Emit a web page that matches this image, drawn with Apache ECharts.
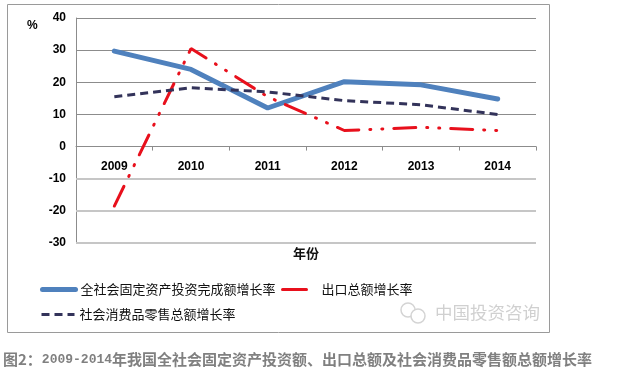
<!DOCTYPE html>
<html>
<head>
<meta charset="utf-8">
<style>
  html, body { margin: 0; padding: 0; background: #fff; }
  #main { width: 643px; height: 375px; }
</style>
<script src="https://cdn.jsdelivr.net/npm/echarts@6/dist/echarts.min.js"></script>
</head>
<body>
<div id="main"></div>
<script>
const years = ['2009', '2010', '2011', '2012', '2013', '2014'];
const investment = [29.7, 24, 12, 20.2, 19.2, 14.8];
const exports_ = [-18.5, 30.5, 15.5, 5, 6, 5];
const retail = [15.5, 18.3, 17, 14.3, 13, 10];
const lowerGrid = [-10, -20, -30];

const nameInvestment = '全社会固定资产投资完成额增长率';
const nameExports = '出口总额增长率';
const nameRetail = '社会消费品零售总额增长率';

const cjk = '"Noto Sans CJK SC", sans-serif';
const latin = '"Liberation Sans", "Noto Sans CJK SC", sans-serif';

const myChart = echarts.init(document.getElementById('main'));

// one legend per entry, they sit at their own spots in the picture
function legendAt(name, left, top, width, lineStyle) {
  return {
    data: [name],
    left: left,
    top: top,
    itemWidth: width,
    itemHeight: 14,
    padding: 0,
    // keeps the line sample, hides the round symbol on it
    itemStyle: { opacity: 0 },
    lineStyle: lineStyle,
    textStyle: { fontFamily: cjk, fontSize: 13, color: '#111' },
  };
}

const captionStyle = { fontFamily: cjk, fontSize: 15, fontWeight: 'bold', color: '#808080' };

const option = {
  animation: false,
  backgroundColor: '#fff',
  grid: { left: 76, right: 107, top: 18, bottom: 132 },
  title: [
    { text: '%', left: 27, top: 20, padding: 0, textStyle: { fontFamily: latin, fontSize: 12, fontWeight: 'bold', color: '#000' } },
    { text: '年份', left: 293, top: 247, padding: 0, textStyle: { fontFamily: cjk, fontSize: 13, fontWeight: 'bold', color: '#111' } },
    { text: '中国投资咨询', left: 435, top: 304, padding: 0, textStyle: { fontFamily: cjk, fontSize: 17.5, fontWeight: 'normal', color: '#d0d0d0' } },
    {
      text: '{a|图2：}{b|2009-2014}{a|年我国全社会固定资产投资额、出口总额及社会消费品零售额总额增长率}',
      left: 3,
      top: 352,
      padding: 0,
      textStyle: {
        rich: {
          a: captionStyle,
          b: { fontFamily: '"Liberation Mono", monospace', fontSize: 13, fontWeight: 'bold', color: '#808080' },
        },
      },
    },
  ],
  legend: [
    legendAt(nameInvestment, 40, 283, 33, { width: 5, cap: 'round' }),
    legendAt(nameExports, 281, 283, 34, { width: 3, cap: 'round', type: [24, 40] }),
    legendAt(nameRetail, 40, 308, 33, { width: 3, type: [8, 5] }),
  ],
  xAxis: {
    type: 'category',
    data: years,
    axisLine: { onZero: true, lineStyle: { color: '#8c8c8c', width: 1 } },
    axisTick: { show: true, alignWithLabel: false, length: 4, lineStyle: { color: '#8c8c8c' } },
    // labels stay near the bottom of the grid otherwise, the picture has them under the zero line
    axisLabel: { fontFamily: latin, fontSize: 12, fontWeight: 'bold', color: '#000', margin: -82 },
  },
  yAxis: {
    type: 'value',
    min: -30,
    max: 40,
    interval: 10,
    axisLine: { show: true, lineStyle: { color: '#8c8c8c', width: 1 } },
    axisTick: { show: false },
    axisLabel: { fontFamily: latin, fontSize: 12, fontWeight: 'bold', color: '#000', margin: 10, padding: [4, 0, 0, 0] },
    splitLine: {
      lineStyle: {
        width: 1,
        // from -30 up to 40, the lower three are drawn by the markLine below
        color: ['transparent', 'transparent', 'transparent', '#8c8c8c', '#8c8c8c', '#8c8c8c', '#8c8c8c', '#8c8c8c'],
      },
    },
  },
  series: [
    {
      name: 'lowerGrid',
      type: 'line',
      data: [],
      silent: true,
      z: 1,
      markLine: {
        silent: true,
        symbol: 'none',
        animation: false,
        label: { show: false },
        lineStyle: { color: '#c6c6c6', width: 2, type: 'solid' },
        data: lowerGrid.map((v) => ({ yAxis: v })),
      },
    },
    {
      name: nameInvestment,
      type: 'line',
      data: investment,
      symbol: 'none',
      itemStyle: { color: '#4f81bd' },
      lineStyle: { color: '#4f81bd', width: 5, cap: 'round' },
    },
    {
      name: nameExports,
      type: 'line',
      data: exports_,
      symbol: 'none',
      itemStyle: { color: '#e8101c' },
      lineStyle: { color: '#e8101c', width: 3, cap: 'round', type: [22, 11, 1, 11, 1, 11] },
    },
    {
      name: nameRetail,
      type: 'line',
      data: retail,
      symbol: 'none',
      itemStyle: { color: '#33335a' },
      lineStyle: { color: '#33335a', width: 3, type: [8, 5] },
    },
  ],
  graphic: [
    // chart frame
    { type: 'rect', silent: true, z: -1, shape: { x: 7.5, y: 4.5, width: 542, height: 328 }, style: { fill: 'none', stroke: '#9a9a9a', lineWidth: 1 } },
    // wechat mark next to the watermark
    { type: 'circle', silent: true, shape: { cx: 408, cy: 310, r: 7 }, style: { fill: 'none', stroke: '#d4d4d4', lineWidth: 1.5 } },
    { type: 'circle', silent: true, shape: { cx: 418, cy: 316, r: 7 }, style: { fill: '#fff', stroke: '#d4d4d4', lineWidth: 1.5 } },
  ],
};

option && myChart.setOption(option, true);
</script>
</body>
</html>
